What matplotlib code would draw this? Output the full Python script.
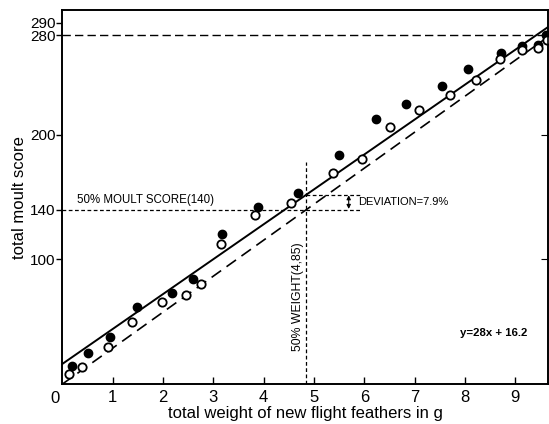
import matplotlib
matplotlib.use("Agg")
import matplotlib.pyplot as plt
import numpy as np

plt.rcParams['font.family'] = ['Liberation Sans', 'DejaVu Sans']

# filled circles
filled_x = [0.18, 0.51, 0.94, 1.49, 2.17, 2.60, 3.17, 3.88, 4.69, 5.49,
            6.23, 6.82, 7.54, 8.07, 8.71, 9.14, 9.45, 9.61]
filled_y = [14.5, 24.7, 38.0, 62.0, 72.9, 84.3, 120.5, 142.4, 153.2, 183.4,
            212.9, 224.9, 238.8, 253.0, 265.6, 270.9, 272.3, 280.3]

# open circles
open_x = [0.13, 0.39, 0.91, 1.38, 1.98, 2.46, 2.76, 3.16, 3.82, 4.55,
          5.37, 5.96, 6.52, 7.09, 7.71, 8.23, 8.70, 9.14, 9.45, 9.63]
open_y = [7.8, 13.9, 29.5, 49.8, 65.9, 71.7, 80.3, 112.4, 135.7, 145.6,
          169.7, 180.7, 206.0, 219.7, 232.1, 243.8, 261.0, 267.7, 269.6, 276.3]

slope, intercept = 28, 16.2
half_weight = 4.85
half_score = 140
top_score = 280

xticks = [1, 2, 3, 4, 5, 6, 7, 8, 9]
yticks = [100, 140, 200, 280, 290]

fig = plt.figure(figsize=(5.49, 4.24), dpi=100)
ax = fig.add_axes([0.1138, 0.0943, 0.8842, 0.8817])
ax.set_xlim(0, 9.65)
ax.set_ylim(0, 300)

xs = np.array([0, 9.65])
ax.plot(xs, slope * xs + intercept, color='black', lw=1.4)
ax.plot(xs, half_score / half_weight * xs, color='black', lw=1.2, dashes=(7, 4))

# reference lines
ax.axhline(top_score, color='black', lw=1.0, dashes=(6, 3))
ax.plot([0, 5.95], [half_score, half_score], color='black', lw=0.9, dashes=(3, 2))
dev_y = slope * half_weight + intercept
ax.plot([half_weight, 5.95], [dev_y, dev_y], color='black', lw=0.9, dashes=(3, 2))
ax.plot([half_weight, half_weight], [0, 178], color='black', lw=0.9, dashes=(3, 2))

ax.annotate('', xy=(5.69, dev_y - 0.5), xytext=(5.69, half_score + 0.5),
            arrowprops=dict(arrowstyle='<|-|>', color='black', lw=0.8,
                            mutation_scale=6, shrinkA=0, shrinkB=0))

ax.plot(filled_x, filled_y, 'o', color='black', ms=6, clip_on=False, zorder=4)
ax.plot(open_x, open_y, 'o', mfc='white', mec='black', mew=1.3, ms=6,
        clip_on=False, zorder=4)

ax.text(0.28, 143, '50% MOULT SCORE(140)', fontsize=8.3, va='bottom')
ax.text(5.87, 146, 'DEVIATION=7.9%', fontsize=8, va='center')
ax.text(4.81, 70, '50% WEIGHT(4,85)', fontsize=8.8, rotation=90,
        ha='right', va='center')
ax.text(7.9, 41, 'y=28x + 16.2', fontsize=8.2, fontweight='bold', va='center')

ax.set_xticks(xticks)
ax.set_xticklabels([str(t) for t in xticks], fontsize=12)
ax.tick_params(axis='x', direction='in', length=5, width=1, pad=4)
ax.text(-0.15, -6, '0', fontsize=12, ha='center', va='top')

ax.set_yticks(yticks)
ax.set_yticklabels([str(t) for t in yticks], fontsize=11)
ax.tick_params(axis='y', direction='out', length=4, width=1, pad=1, left=True)

ax2 = ax.twinx()
ax2.set_ylim(0, 300)
ax2.set_yticks([100, 200])
ax2.set_yticklabels([])
ax2.tick_params(axis='y', direction='in', length=5)

for sp in list(ax.spines.values()) + list(ax2.spines.values()):
    sp.set_linewidth(1.2)

ax.set_xlabel('total weight of new flight feathers in g', fontsize=12, labelpad=1)
ax.set_ylabel('total moult score', fontsize=12, labelpad=2)

fig.savefig('out.png', dpi=100)
